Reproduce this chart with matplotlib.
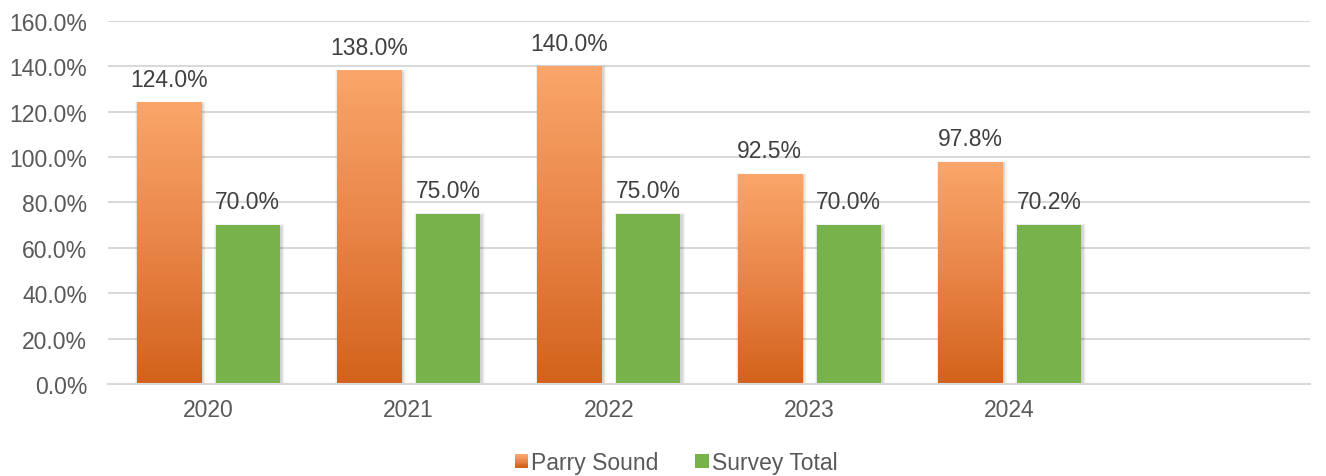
import matplotlib.pyplot as plt
import numpy as np
from matplotlib.colors import LinearSegmentedColormap
from matplotlib.patches import Rectangle
from matplotlib.legend_handler import HandlerBase

years = ["2020", "2021", "2022", "2023", "2024"]
parry_sound = [124.0, 138.0, 140.0, 92.5, 97.8]
survey_total = [70.0, 75.0, 75.0, 70.0, 70.2]

plt.rcParams["font.family"] = ["Liberation Sans", "DejaVu Sans"]

orange_cmap = LinearSegmentedColormap.from_list("orange", ["#D2621B", "#E98548", "#FAA66A"])
green = "#77B34A"
grid_color = "#D9D9D9"
fsize = 16.5

fig = plt.figure(figsize=(13.26, 4.77), dpi=100)
ax = fig.add_axes([0.0814, 0.193, 0.9066, 0.761])

n_slots = 6
ax.set_xlim(-0.5, n_slots - 0.5)
ax.set_ylim(0, 160)

x = np.arange(len(years))
width = 0.32
offset = 0.197

# pixel sizes in data units, used for the soft drop shadow
px_x = n_slots / 1202.0
px_y = 160 / 363.0


def shadow(x0, w, h):
    for k in range(1, 6):
        ax.add_patch(Rectangle((x0 + px_x * (1.5 - k * 0.6), -px_y * 2),
                               w + px_x * k * 1.2, h + px_y * (k * 0.6),
                               facecolor="black", edgecolor="none",
                               alpha=0.035, zorder=1.5))


grad = np.linspace(0, 1, 256).reshape(-1, 1)

for xi, v in zip(x, parry_sound):
    x0 = xi - offset - width / 2
    shadow(x0, width, v)
    ax.imshow(grad, cmap=orange_cmap, origin="lower", aspect="auto",
              extent=(x0, x0 + width, 0, v), zorder=2)
    ax.annotate(f"{v:.1f}%", (xi - offset, v), xytext=(0, 8.5),
                textcoords="offset points", ha="center", va="bottom",
                fontsize=fsize, color="#404040")

for xi, v in zip(x, survey_total):
    x0 = xi + offset - width / 2
    shadow(x0, width, v)
    ax.add_patch(Rectangle((x0, 0), width, v, facecolor=green,
                           edgecolor="none", zorder=2))
    ax.annotate(f"{v:.1f}%", (xi + offset, v), xytext=(0, 8.5),
                textcoords="offset points", ha="center", va="bottom",
                fontsize=fsize, color="#404040")

ax.set_xlim(-0.5, n_slots - 0.5)
ax.set_ylim(0, 160)

ax.set_yticks(np.arange(0, 161, 20))
ax.set_yticklabels([f"{t:.1f}%" for t in np.arange(0, 161, 20)])
ax.set_xticks(x)
ax.set_xticklabels(years)
ax.tick_params(axis="both", length=0, labelsize=fsize, labelcolor="#595959")
ax.tick_params(axis="x", pad=10)
ax.tick_params(axis="y", pad=15)

ax.grid(axis="y", color=grid_color, linewidth=1.5, zorder=0)
ax.set_axisbelow(True)
for side in ["top", "right", "left"]:
    ax.spines[side].set_visible(False)
ax.spines["bottom"].set_color(grid_color)
ax.spines["bottom"].set_linewidth(1.5)


class GradientHandler(HandlerBase):
    def create_artists(self, legend, orig_handle, xdescent, ydescent,
                       width, height, fontsize, trans):
        artists = []
        steps = 8
        for i in range(steps):
            artists.append(Rectangle((-xdescent, -ydescent + height * i / steps),
                                     height, height / steps + 0.3,
                                     facecolor=orange_cmap(i / (steps - 1)),
                                     edgecolor="none", transform=trans))
        return artists


class SquareHandler(HandlerBase):
    def create_artists(self, legend, orig_handle, xdescent, ydescent,
                       width, height, fontsize, trans):
        return [Rectangle((-xdescent, -ydescent), height, height,
                          facecolor=green, edgecolor="none", transform=trans)]


h1 = Rectangle((0, 0), 1, 1)
h2 = Rectangle((0, 0), 1, 1)
fig.legend([h1, h2], ["Parry Sound", "Survey Total"],
           handler_map={h1: GradientHandler(), h2: SquareHandler()},
           loc="center", bbox_to_anchor=(0.51, 0.028), ncol=2, frameon=False,
           fontsize=fsize, labelcolor="#595959", handlelength=0.5,
           handleheight=0.5, handletextpad=0.2, columnspacing=1.6)

fig.savefig("out.png", dpi=100)
